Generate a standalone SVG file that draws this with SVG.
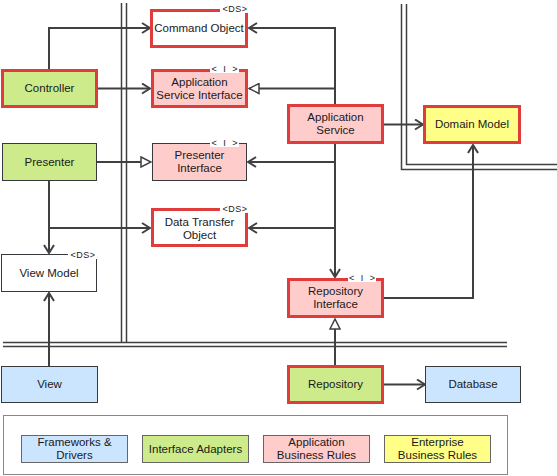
<svg xmlns="http://www.w3.org/2000/svg" width="557" height="476" viewBox="0 0 557 476">
<style>
text{font-family:"Liberation Sans",Arial,sans-serif;font-size:11.5px;fill:#1a1a1a;text-anchor:middle}
.tag{font-size:9px;letter-spacing:0.5px}
.itag{font-size:9px;letter-spacing:2px}
.red{stroke:#e03c3c;stroke-width:3}
.thin{stroke:#36393d;stroke-width:1}
.green{fill:#cdeb8b}
.pink{fill:#ffcccc}
.yellow{fill:#ffff88}
.blue{fill:#cce5ff}
.white{fill:#ffffff}
.conn path{fill:none;stroke:#404040;stroke-width:2}
.wall{fill:none;stroke:#404040;stroke-width:1.5}
.legend rect{stroke:#666;stroke-width:1}
</style>
<defs>
<marker id="open" markerUnits="userSpaceOnUse" viewBox="0 0 10 12" markerWidth="10" markerHeight="12" refX="9" refY="6" orient="auto">
<path d="M1,1 L9,6 L1,11" fill="none" stroke="#404040" stroke-width="2"/>
</marker>
<marker id="tri" markerUnits="userSpaceOnUse" viewBox="0 0 12 12" markerWidth="12" markerHeight="12" refX="11" refY="6" orient="auto">
<path d="M1,1 L11,6 L1,11 Z" fill="#ffffff" stroke="#404040" stroke-width="1.5"/>
</marker>
</defs>
<rect x="0" y="0" width="557" height="476" fill="#ffffff"/>
<g id="walls">
<path class="wall" d="M121.5,3 V342"/>
<path class="wall" d="M126.5,3 V342"/>
<path class="wall" d="M3,342.5 H507"/>
<path class="wall" d="M3,346.5 H507"/>
<path class="wall" d="M401.5,4 V169.5 H557"/>
<path class="wall" d="M406.5,4 V164.5 H557"/>
</g>
<g id="connectors" class="conn">
<path d="M49,69 V28 H150" marker-end="url(#open)"/>
<path d="M98,88.5 H150" marker-end="url(#open)"/>
<path d="M97,162 H151" marker-end="url(#tri)"/>
<path d="M49,181 V253" marker-end="url(#open)"/>
<path d="M49,228 H150" marker-end="url(#open)"/>
<path d="M49,366 V293" marker-end="url(#open)"/>
<path d="M335,104 V28 H249" marker-end="url(#open)"/>
<path d="M335,88.5 H249" marker-end="url(#tri)"/>
<path d="M335,144 V162 H248" marker-end="url(#open)"/>
<path d="M335,228 H249" marker-end="url(#open)"/>
<path d="M335,144 V277" marker-end="url(#open)"/>
<path d="M384,124.5 H423" marker-end="url(#open)"/>
<path d="M384,298 H473 V145" marker-end="url(#open)"/>
<path d="M335,365 V319" marker-end="url(#tri)"/>
<path d="M384,384.5 H425" marker-end="url(#open)"/>
</g>
<g id="command-object">
<rect x="151.5" y="10.5" width="95" height="36" class="red white"/>
<rect x="220" y="3" width="30" height="10" fill="#ffffff"/>
<text class="tag" x="235" y="12">&lt;DS&gt;</text>
<text x="199" y="32">Command Object</text>
</g>
<g id="controller">
<rect x="2.5" y="70.5" width="94" height="36" class="red green"/>
<text x="49.5" y="92">Controller</text>
</g>
<g id="app-service-interface">
<rect x="152.5" y="70.5" width="94" height="36" class="red pink"/>
<rect x="210" y="64" width="29" height="9" fill="#ffffff"/>
<text class="itag" x="225.5" y="72">&lt; I &gt;</text>
<text x="199.5" y="86">Application</text>
<text x="199.5" y="99">Service Interface</text>
</g>
<g id="presenter">
<rect x="2.5" y="143.5" width="94" height="37" class="thin green"/>
<text x="49.5" y="166">Presenter</text>
</g>
<g id="presenter-interface">
<rect x="152.5" y="143.5" width="94" height="37" class="thin pink"/>
<rect x="210" y="138" width="29" height="9" fill="#ffffff"/>
<text class="itag" x="225.5" y="146">&lt; I &gt;</text>
<text x="199.5" y="159">Presenter</text>
<text x="199.5" y="172">Interface</text>
</g>
<g id="application-service">
<rect x="288.5" y="105.5" width="94" height="37" class="red pink"/>
<text x="335.5" y="121">Application</text>
<text x="335.5" y="134">Service</text>
</g>
<g id="domain-model">
<rect x="424.5" y="106.5" width="95" height="36" class="red yellow"/>
<text x="472" y="128">Domain Model</text>
</g>
<g id="data-transfer-object">
<rect x="152.5" y="209.5" width="94" height="36" class="red white"/>
<rect x="220" y="203" width="30" height="10" fill="#ffffff"/>
<text class="tag" x="235" y="212">&lt;DS&gt;</text>
<text x="199.5" y="226">Data Transfer</text>
<text x="199.5" y="239">Object</text>
</g>
<g id="view-model">
<rect x="1.5" y="254.5" width="95" height="37" class="thin white"/>
<rect x="68" y="250" width="30" height="9" fill="#ffffff"/>
<text class="tag" x="83" y="258">&lt;DS&gt;</text>
<text x="49" y="277">View Model</text>
</g>
<g id="repository-interface">
<rect x="288.5" y="279.5" width="94" height="37" class="red pink"/>
<rect x="348" y="273" width="28" height="9" fill="#ffffff"/>
<text class="itag" x="363" y="281">&lt; I &gt;</text>
<text x="335.5" y="295">Repository</text>
<text x="335.5" y="308">Interface</text>
</g>
<g id="view">
<rect x="1.5" y="366.5" width="96" height="36" class="thin blue"/>
<text x="49.5" y="388">View</text>
</g>
<g id="repository">
<rect x="288.5" y="366.5" width="94" height="36" class="red green"/>
<text x="335.5" y="388">Repository</text>
</g>
<g id="database">
<rect x="425.5" y="366.5" width="95" height="36" class="thin blue"/>
<text x="473" y="388">Database</text>
</g>
<g id="legend" class="legend">
<rect x="3.5" y="415.5" width="504" height="59" fill="#ffffff" style="stroke:#888"/>
<rect x="21.5" y="435.5" width="106" height="27" class="blue"/>
<text x="74.5" y="446">Frameworks &amp;</text>
<text x="74.5" y="459">Drivers</text>
<rect x="142.5" y="435.5" width="106" height="27" class="green"/>
<text x="195.5" y="452.5">Interface Adapters</text>
<rect x="263.5" y="435.5" width="106" height="27" class="pink"/>
<text x="316.5" y="446">Application</text>
<text x="316.5" y="459">Business Rules</text>
<rect x="384.5" y="435.5" width="106" height="27" class="yellow"/>
<text x="437.5" y="446">Enterprise</text>
<text x="437.5" y="459">Business Rules</text>
</g>
</svg>
